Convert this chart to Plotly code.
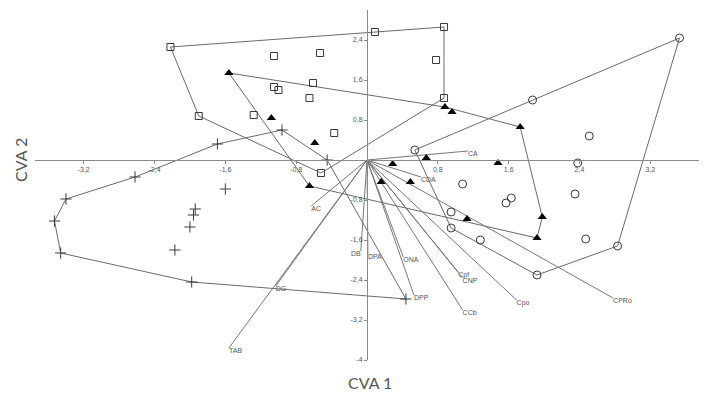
import plotly.graph_objects as go

# ---- data (CVA scores) ----
sq_x = [-2.22, 0.09, 0.87, 0.78, 0.87, -0.53, -1.05, -0.61, -1.05, -1.00, -0.65, -1.28, -1.90, -0.37, -0.52]
sq_y = [2.26, 2.56, 2.66, 2.00, 1.24, 2.14, 2.08, 1.54, 1.46, 1.40, 1.24, 0.90, 0.88, 0.54, -0.26]
sq_hull = [0, 1, 2, 4, 14, 12, 0]

tr_x = [-1.56, -1.08, -0.59, -0.65, 0.88, 0.96, 1.73, 0.67, 1.48, 0.29, 0.16, 0.49, 1.13, 1.98, 1.92]
tr_y = [1.74, 0.84, 0.34, -0.52, 1.06, 0.96, 0.66, 0.04, -0.06, -0.08, -0.44, -0.44, -1.18, -1.14, -1.56]
tr_hull = [0, 4, 6, 13, 14, 3, 0]

ci_x = [3.53, 1.87, 2.51, 0.54, 2.38, 1.08, 2.35, 1.63, 1.57, 0.95, 0.95, 1.28, 2.47, 2.83, 1.92]
ci_y = [2.44, 1.20, 0.48, 0.20, -0.06, -0.48, -0.68, -0.76, -0.86, -1.04, -1.36, -1.60, -1.58, -1.72, -2.30]
ci_hull = [3, 1, 0, 13, 14, 10, 3]

cr_x = [-0.96, -0.45, 0.44, -1.98, -3.46, -3.53, -3.40, -2.62, -1.69, -1.60, -1.94, -1.96, -2.00, -2.17]
cr_y = [0.60, 0.00, -2.78, -2.44, -1.86, -1.22, -0.78, -0.34, 0.32, -0.58, -0.98, -1.10, -1.34, -1.80]
cr_hull = [0, 1, 2, 3, 4, 5, 6, 7, 8, 0]

# ---- variable vectors ----
vec_names = ["CA", "CDA", "Cpf", "CNP", "CCb", "Cpo", "CPRo", "DPP", "ONA", "DPA", "DB", "AC", "DG", "TAB"]
vec_x = [1.14, 0.61, 1.03, 1.08, 1.08, 1.69, 2.78, 0.53, 0.41, 0.01, -0.07, -0.63, -1.03, -1.56]
vec_y = [0.18, -0.34, -2.24, -2.36, -3.00, -2.80, -2.76, -2.70, -1.94, -1.88, -1.82, -0.92, -2.52, -3.76]

# ---- axis ticks ----
x_ticks = [-3.2, -2.4, -1.6, -0.8, 0.8, 1.6, 2.4, 3.2]
x_tick_text = ["-3,2", "-2,4", "-1,6", "-0,8", "0,8", "1,6", "2,4", "3,2"]
y_ticks = [2.4, 1.6, 0.8, -0.8, -1.6, -2.4, -3.2, -4]
y_tick_text = ["2,4", "1,6", "0,8", "-0,8", "-1,6", "-2,4", "-3,2", "-4"]

X_RANGE = [-3.75, 3.75]
Y_RANGE = [-4.0, 3.0]

LINE_COL = "#6a6a6a"
MARK_COL = "#3a3a3a"
LABEL_LEFT = {"DB"}   # labels placed to the left of their vector end


def hull_path(xs, ys, idx):
    return [xs[i] for i in idx], [ys[i] for i in idx]


fig = go.Figure()

# convex hulls
for xs, ys, idx in [(sq_x, sq_y, sq_hull), (tr_x, tr_y, tr_hull), (ci_x, ci_y, ci_hull), (cr_x, cr_y, cr_hull)]:
    hx, hy = hull_path(xs, ys, idx)
    fig.add_trace(go.Scatter(x=hx, y=hy, mode="lines",
                             line=dict(color=LINE_COL, width=1), hoverinfo="skip", showlegend=False))

# vectors
vx, vy = [], []
for x, y in zip(vec_x, vec_y):
    vx += [0, x, None]
    vy += [0, y, None]
fig.add_trace(go.Scatter(x=vx, y=vy, mode="lines", line=dict(color="#777777", width=1),
                         hoverinfo="skip", showlegend=False))
fig.add_trace(go.Scatter(x=vec_x, y=vec_y, mode="text", text=vec_names,
                         textposition=["bottom left" if n in LABEL_LEFT else "bottom right" for n in vec_names],
                         textfont=dict(family="Liberation Sans", size=7, color="#555555"),
                         showlegend=False))

# groups
fig.add_trace(go.Scatter(x=sq_x, y=sq_y, mode="markers", showlegend=False,
                         marker=dict(symbol="square-open", size=7, color=MARK_COL, line=dict(width=1))))
fig.add_trace(go.Scatter(x=ci_x, y=ci_y, mode="markers", showlegend=False,
                         marker=dict(symbol="circle-open", size=8, color=MARK_COL, line=dict(width=1))))
fig.add_trace(go.Scatter(x=cr_x, y=cr_y, mode="markers", showlegend=False,
                         marker=dict(symbol="cross-thin-open", size=8, color=MARK_COL, line=dict(width=1))))
fig.add_trace(go.Scatter(x=tr_x, y=tr_y, mode="markers", showlegend=False,
                         marker=dict(symbol="triangle-up", size=8, color="#000000", line=dict(width=0))))

x_pos = (0 - Y_RANGE[0]) / (Y_RANGE[1] - Y_RANGE[0])
y_pos = (0 - X_RANGE[0]) / (X_RANGE[1] - X_RANGE[0])

axis_common = dict(showgrid=False, zeroline=False, showline=True, linecolor="#8a8a8a", linewidth=1,
                   ticks="outside", ticklen=3, tickcolor="#8a8a8a",
                   tickfont=dict(family="Liberation Sans", size=7, color="#555555"))

fig.update_layout(
    width=708, height=394,
    margin=dict(l=35, r=9, t=10, b=34),
    paper_bgcolor="white", plot_bgcolor="white",
    xaxis=dict(range=X_RANGE, anchor="free", position=x_pos,
               tickvals=x_ticks, ticktext=x_tick_text, **axis_common),
    yaxis=dict(range=Y_RANGE, anchor="free", position=y_pos,
               tickvals=y_ticks, ticktext=y_tick_text, **axis_common),
    annotations=[
        dict(text="CVA 1", xref="paper", yref="paper", x=(370 - 35) / 664, y=(360 - 383) / 350,
             xanchor="center", yanchor="middle", showarrow=False,
             font=dict(family="Lato", size=16, color="#555555")),
        dict(text="CVA 2", xref="paper", yref="paper", x=(20 - 35) / 664, y=(360 - 160) / 350,
             xanchor="center", yanchor="middle", showarrow=False, textangle=-90,
             font=dict(family="Lato", size=16, color="#555555")),
    ],
)

fig.write_html("out.html", config={"displayModeBar": False},
               post_script="document.body.style.margin='0';document.body.style.overflow='hidden';")
